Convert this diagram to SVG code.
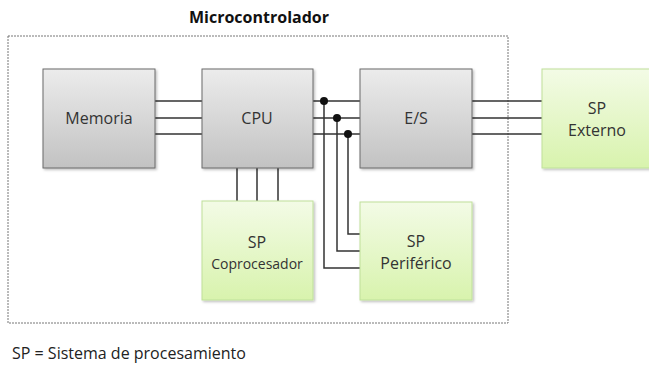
<svg xmlns="http://www.w3.org/2000/svg" width="649" height="365" viewBox="0 0 649 365">
<style>
.gray{fill:url(#g);stroke:#6b6b6b;stroke-width:1}
.green{fill:url(#gr);stroke:#bfe09a;stroke-width:1}
.t{font-family:"Open Sans","Liberation Sans",sans-serif;font-size:16px;fill:#333;text-anchor:middle}
.ts{font-size:14px}
.w{stroke:#333;stroke-width:1.5;fill:none}
</style>
<defs>
<linearGradient id="g" x1="0" y1="0" x2="0" y2="1"><stop offset="0" stop-color="#ececec"/><stop offset="1" stop-color="#c2c2c2"/></linearGradient>
<linearGradient id="gr" x1="0" y1="0" x2="0" y2="1"><stop offset="0" stop-color="#f3fbe6"/><stop offset="1" stop-color="#d8f3ad"/></linearGradient>
<filter id="sh" x="-10%" y="-10%" width="125%" height="125%"><feDropShadow dx="1.5" dy="1.5" stdDeviation="1.2" flood-color="#000" flood-opacity="0.25"/></filter>
</defs>
<rect width="649" height="365" fill="#fff"/>
<g id="container">
<rect x="8" y="36" width="500" height="287" fill="none" stroke="#777" stroke-width="1" stroke-dasharray="2,1"/>
<text x="259" y="23" style="font-family:'Open Sans','Liberation Sans',sans-serif;font-size:16px;font-weight:bold;fill:#111;text-anchor:middle">Microcontrolador</text>
</g>
<g id="connectors">
<path class="w" d="M155 101H202M155 118H202M155 134H202"/>
<path class="w" d="M313 101H360M313 118H360M313 134H360"/>
<path class="w" d="M472 101H542M472 118H542M472 134H542"/>
<path class="w" d="M237 168V201M257 168V201M278 168V201"/>
<path class="w" d="M324 101V268H360M337 118V251H360M348 134V234H360" stroke-width="1.2"/>
<circle cx="324" cy="101" r="4" fill="#111"/>
<circle cx="337" cy="118" r="4" fill="#111"/>
<circle cx="348" cy="134" r="4" fill="#111"/>
</g>
<g id="memoria"><rect class="gray" x="43" y="69" width="112" height="99" filter="url(#sh)"/><text class="t" x="99" y="124">Memoria</text></g>
<g id="cpu"><rect class="gray" x="202" y="69" width="111" height="99" filter="url(#sh)"/><text class="t" x="257" y="124">CPU</text></g>
<g id="es"><rect class="gray" x="360" y="69" width="112" height="99" filter="url(#sh)"/><text class="t" x="416" y="124">E/S</text></g>
<g id="externo"><rect class="green" x="542" y="69" width="112" height="99" filter="url(#sh)"/><text class="t" x="597" y="114">SP</text><text class="t" x="597" y="136">Externo</text></g>
<g id="coprocesador"><rect class="green" x="202" y="201" width="111" height="99" filter="url(#sh)"/><text class="t" x="257" y="248">SP</text><text class="t ts" x="257" y="269">Coprocesador</text></g>
<g id="periferico"><rect class="green" x="360" y="202" width="112" height="98" filter="url(#sh)"/><text class="t" x="416" y="247">SP</text><text class="t" x="416" y="269">Periférico</text></g>
<text x="12" y="359" style="font-family:'Open Sans','Liberation Sans',sans-serif;font-size:16px;fill:#222">SP = Sistema de procesamiento</text>
</svg>
